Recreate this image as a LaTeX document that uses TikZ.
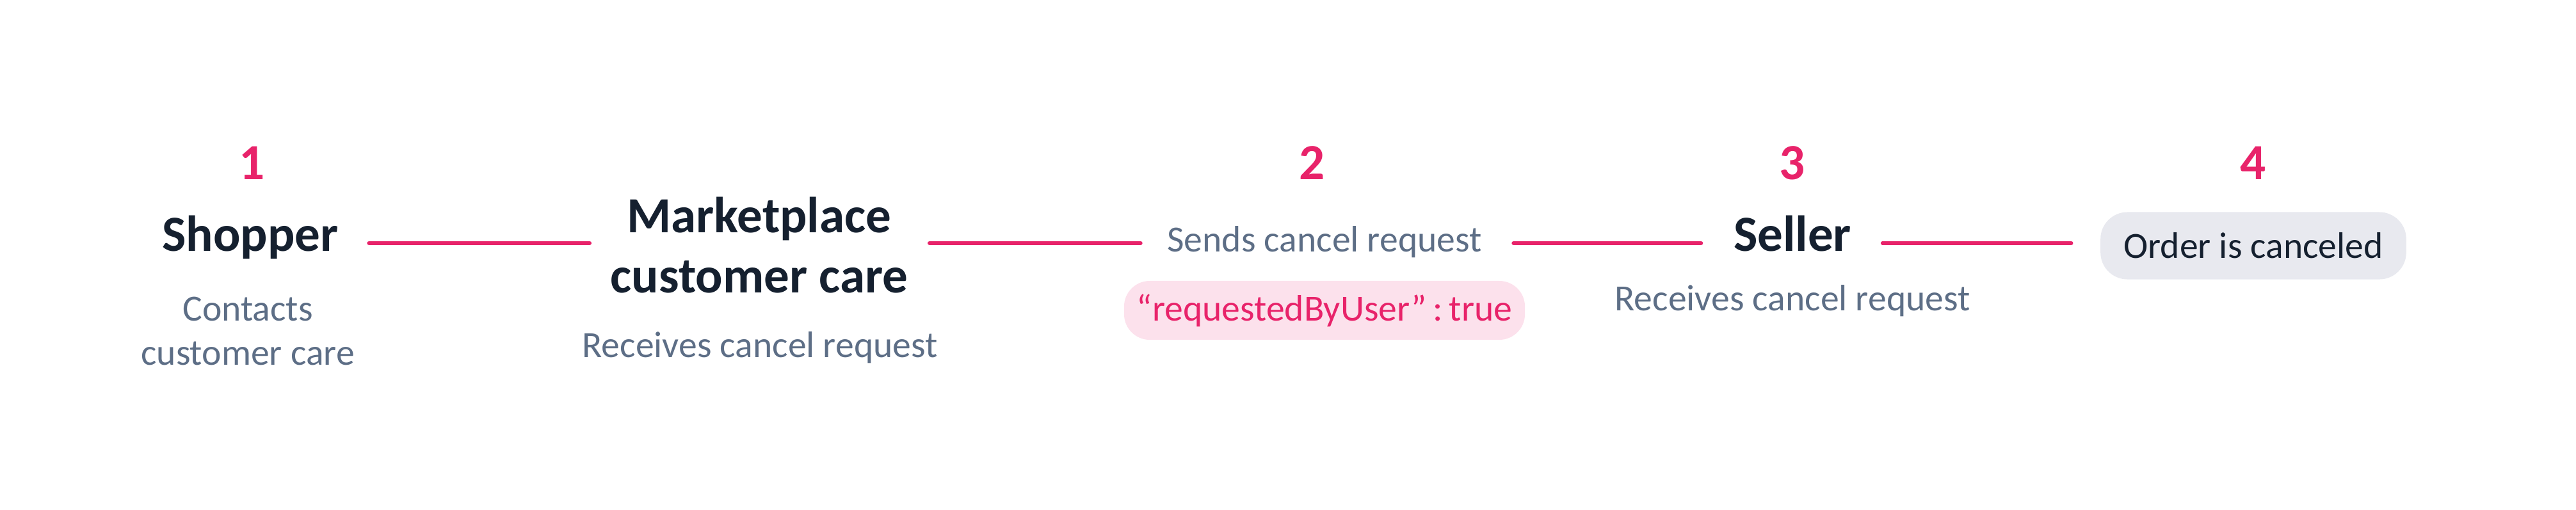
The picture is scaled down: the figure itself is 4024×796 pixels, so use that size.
\documentclass[tikz,border=0pt]{standalone}
\usepackage{fontspec}
\setmainfont{Carlito}
\definecolor{accent}{HTML}{E8236A}
\definecolor{ink}{HTML}{15202F}
\definecolor{muted}{HTML}{5D6E86}
\definecolor{tagpink}{HTML}{FCE1EC}
\definecolor{taggrey}{HTML}{E8E9EF}
\tikzstyle{stepnum}=[anchor=base, inner sep=0, text=accent, font=\bfseries\fontsize{22.5}{27}\selectfont]
\tikzstyle{actor}=[anchor=base, inner sep=0, align=center, text=ink, font=\bfseries\fontsize{22.5}{26.7}\selectfont]
\tikzstyle{note}=[anchor=base, inner sep=0, align=center, text=muted, font=\fontsize{16.4}{19.35}\selectfont]
\tikzstyle{tag}=[inner xsep=0.36cm, inner ysep=0, font=\fontsize{16.4}{19.35}\selectfont]
\tikzstyle{link}=[accent, line width=0.06cm, line cap=round]

\begin{document}
\begin{tikzpicture}[x=0.01cm, y=-0.01cm]
\useasboundingbox (0,0) rectangle (4024,796);
\coordinate (rail) at (0,380);
% Step numbers
    \node[stepnum] (num1) at (394,280) {1};
    \node[stepnum] (num2) at (2050,280) {2};
    \node[stepnum] (num3) at (2800,280) {3};
    \node[stepnum] (num4) at (3520,280) {4};
% Actors and steps
    \node[actor] (shopper) at (391,392) {Shopper};
    \node[actor] (care) at (1186,457) {Marketplace\\customer care};
    \node[note] (sends) at (2069,393) {Sends cancel request};
    \node[actor] (seller) at (2800,392) {Seller};
    \node[tag, fill=taggrey, text=ink, minimum height=1.05cm, rounded corners=0.42cm] (order) at (3520,384) {Order is canceled};
% Notes below
    \node[note] (contacts) at (387,570) {Contacts\\customer care};
    \node[note] (careget) at (1187,558) {Receives cancel request};
    \node[tag, fill=tagpink, text=accent, inner xsep=0.2cm, minimum height=0.92cm, rounded corners=0.4cm] (flag) at (2069,485) {“requestedByUser”\,:\,true};
    \node[note] (sellerget) at (2800,485) {Receives cancel request};
% Connectors
    \draw[link, shorten <=0.47cm, shorten >=0.32cm] (shopper.east |- rail) -- (care.west |- rail);
    \draw[link, shorten <=0.33cm, shorten >=0.41cm] (care.east |- rail) -- (sends.west |- rail);
    \draw[link, shorten <=0.49cm, shorten >=0.50cm] (sends.east |- rail) -- (seller.west |- rail);
    \draw[link, shorten <=0.48cm, shorten >=0.45cm] (seller.east |- rail) -- (order.west |- rail);
\end{tikzpicture}
\end{document}
